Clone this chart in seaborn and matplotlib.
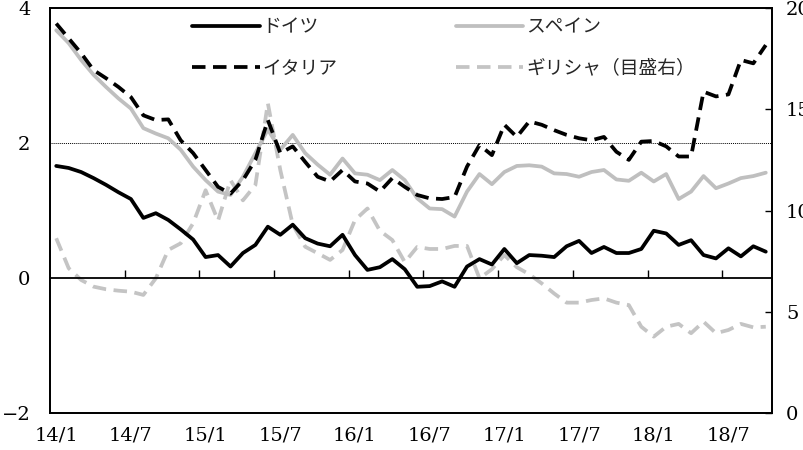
import numpy as np
import matplotlib
matplotlib.use("Agg")
import matplotlib.pyplot as plt
import seaborn as sns

# ==========================
# Data (monthly, 14/1 - 18/10)
# ==========================

germany = [1.66, 1.63, 1.57, 1.48, 1.38, 1.27, 1.17, 0.89, 0.96, 0.86,
           0.72, 0.57, 0.31, 0.34, 0.17, 0.37, 0.49, 0.76, 0.64, 0.79,
           0.59, 0.51, 0.47, 0.64, 0.34, 0.12, 0.16, 0.28, 0.13, -0.13,
           -0.12, -0.05, -0.13, 0.17, 0.28, 0.20, 0.43, 0.22, 0.34, 0.33,
           0.31, 0.47, 0.55, 0.37, 0.46, 0.37, 0.37, 0.43, 0.70, 0.66,
           0.49, 0.56, 0.34, 0.29, 0.44, 0.32, 0.47, 0.39]

spain = [3.67, 3.48, 3.23, 3.01, 2.83, 2.66, 2.51, 2.22, 2.14, 2.07,
         1.90, 1.65, 1.45, 1.28, 1.23, 1.50, 1.85, 2.20, 1.90, 2.12,
         1.85, 1.68, 1.53, 1.77, 1.55, 1.53, 1.45, 1.60, 1.45, 1.18,
         1.03, 1.02, 0.91, 1.28, 1.54, 1.39, 1.57, 1.66, 1.67, 1.65,
         1.55, 1.54, 1.50, 1.57, 1.60, 1.46, 1.44, 1.56, 1.43, 1.54,
         1.17, 1.28, 1.51, 1.33, 1.40, 1.48, 1.51, 1.56]

italy = [3.77, 3.55, 3.33, 3.08, 2.96, 2.83, 2.68, 2.41, 2.34, 2.35,
         2.04, 1.85, 1.60, 1.35, 1.25, 1.45, 1.75, 2.34, 1.85, 1.95,
         1.72, 1.50, 1.43, 1.60, 1.43, 1.40, 1.28, 1.48, 1.35, 1.23,
         1.18, 1.17, 1.20, 1.65, 1.97, 1.82, 2.27, 2.09, 2.32, 2.27,
         2.19, 2.12, 2.07, 2.04, 2.09, 1.87, 1.75, 2.02, 2.03, 1.95,
         1.80, 1.80, 2.76, 2.69, 2.72, 3.23, 3.18, 3.45]

# right axis
greece = [8.63, 7.15, 6.57, 6.24, 6.11, 6.04, 5.99, 5.83, 6.65, 8.05,
          8.38, 9.37, 11.0, 9.50, 11.5, 10.5, 11.26, 15.3, 12.0, 9.30,
          8.21, 7.89, 7.56, 8.05, 9.53, 10.1, 9.00, 8.54, 7.45, 8.20,
          8.10, 8.10, 8.25, 8.25, 6.65, 7.10, 7.80, 7.20, 6.85, 6.40,
          5.90, 5.45, 5.45, 5.58, 5.66, 5.45, 5.33, 4.26, 3.77, 4.26,
          4.40, 3.94, 4.51, 3.94, 4.10, 4.40, 4.23, 4.26]

tick_labels = ["14/1", "14/7", "15/1", "15/7", "16/1",
               "16/7", "17/1", "17/7", "18/1", "18/7"]

labels = ["ドイツ", "スペイン", "イタリア", "ギリシャ（目盛右）"]

# ==========================
# Style
# ==========================

sns.set_style("white")
plt.rcParams["font.family"] = ["DejaVu Serif", "Noto Sans CJK JP"]
plt.rcParams["axes.unicode_minus"] = True

n = len(germany)
x = np.arange(n) + 0.5   # points at mid-month

fig = plt.figure(figsize=(8.04, 4.5), dpi=100)
ax = fig.add_axes([50 / 804, 1 - 413 / 450, 722 / 804, 405 / 450])
ax2 = ax.twinx()

lw = 2.7
dash = (0, (3.6, 2.0))

sns.lineplot(x=x, y=germany, ax=ax, color="black", linewidth=lw,
             label=labels[0], legend=False)
sns.lineplot(x=x, y=spain, ax=ax, color="#bfbfbf", linewidth=lw,
             label=labels[1], legend=False)
sns.lineplot(x=x, y=italy, ax=ax, color="black", linewidth=lw,
             linestyle=dash, label=labels[2], legend=False)
sns.lineplot(x=x, y=greece, ax=ax2, color="#c4c4c4", linewidth=lw,
             linestyle=dash, label=labels[3], legend=False)

# keep left-axis lines above greece
ax.set_zorder(2)
ax2.set_zorder(1)
ax.patch.set_visible(False)

ax.axhline(2, color="black", linewidth=0.7, linestyle=(0, (1, 1)), zorder=1)

# ==========================
# Axes
# ==========================

ax.set_xlim(0, n)
ax.set_ylim(-2, 4)
ax2.set_ylim(0, 20)

ax.set_yticks([-2, 0, 2, 4])
ax.set_yticklabels(["−2", "0", "2", "4"])
ax2.set_yticks([0, 5, 10, 15, 20])

ax.set_xticks(np.arange(0, n, 6) + 0.5)
ax.set_xticklabels(tick_labels)

ax.tick_params(axis="x", length=0, pad=10, labelsize=14, colors="black")
ax.tick_params(axis="y", length=0, pad=14, labelsize=14, colors="black")
ax2.tick_params(axis="y", direction="in", length=5, width=1, pad=10,
                labelsize=14, colors="black")

for a in (ax, ax2):
    for s in a.spines.values():
        s.set_color("black")
        s.set_linewidth(1.3)
        s.set_visible(True)

# zero line with month ticks pointing up
zero = ax.secondary_xaxis(1 / 3)
zero.set_xticks(np.arange(6, n, 6))
zero.tick_params(axis="x", direction="in", length=6, width=1,
                 labelbottom=False, labeltop=False, colors="black")
for s in zero.spines.values():
    s.set_color("black")
    s.set_linewidth(1.3)

# ==========================
# Legend
# ==========================

h1, l1 = ax.get_legend_handles_labels()
h2, l2 = ax2.get_legend_handles_labels()
handles = [h1[0], h1[2], h1[1], h2[0]]
names = [l1[0], l1[2], l1[1], l2[0]]
ax.legend(handles, names, ncol=2, loc="upper left",
          bbox_to_anchor=(0.197, 0.975), frameon=False, fontsize=13.5,
          handlelength=3.6, handletextpad=0.15, columnspacing=6.3,
          labelspacing=1.25, borderpad=0, borderaxespad=0)

fig.savefig("out.png", dpi=100)
